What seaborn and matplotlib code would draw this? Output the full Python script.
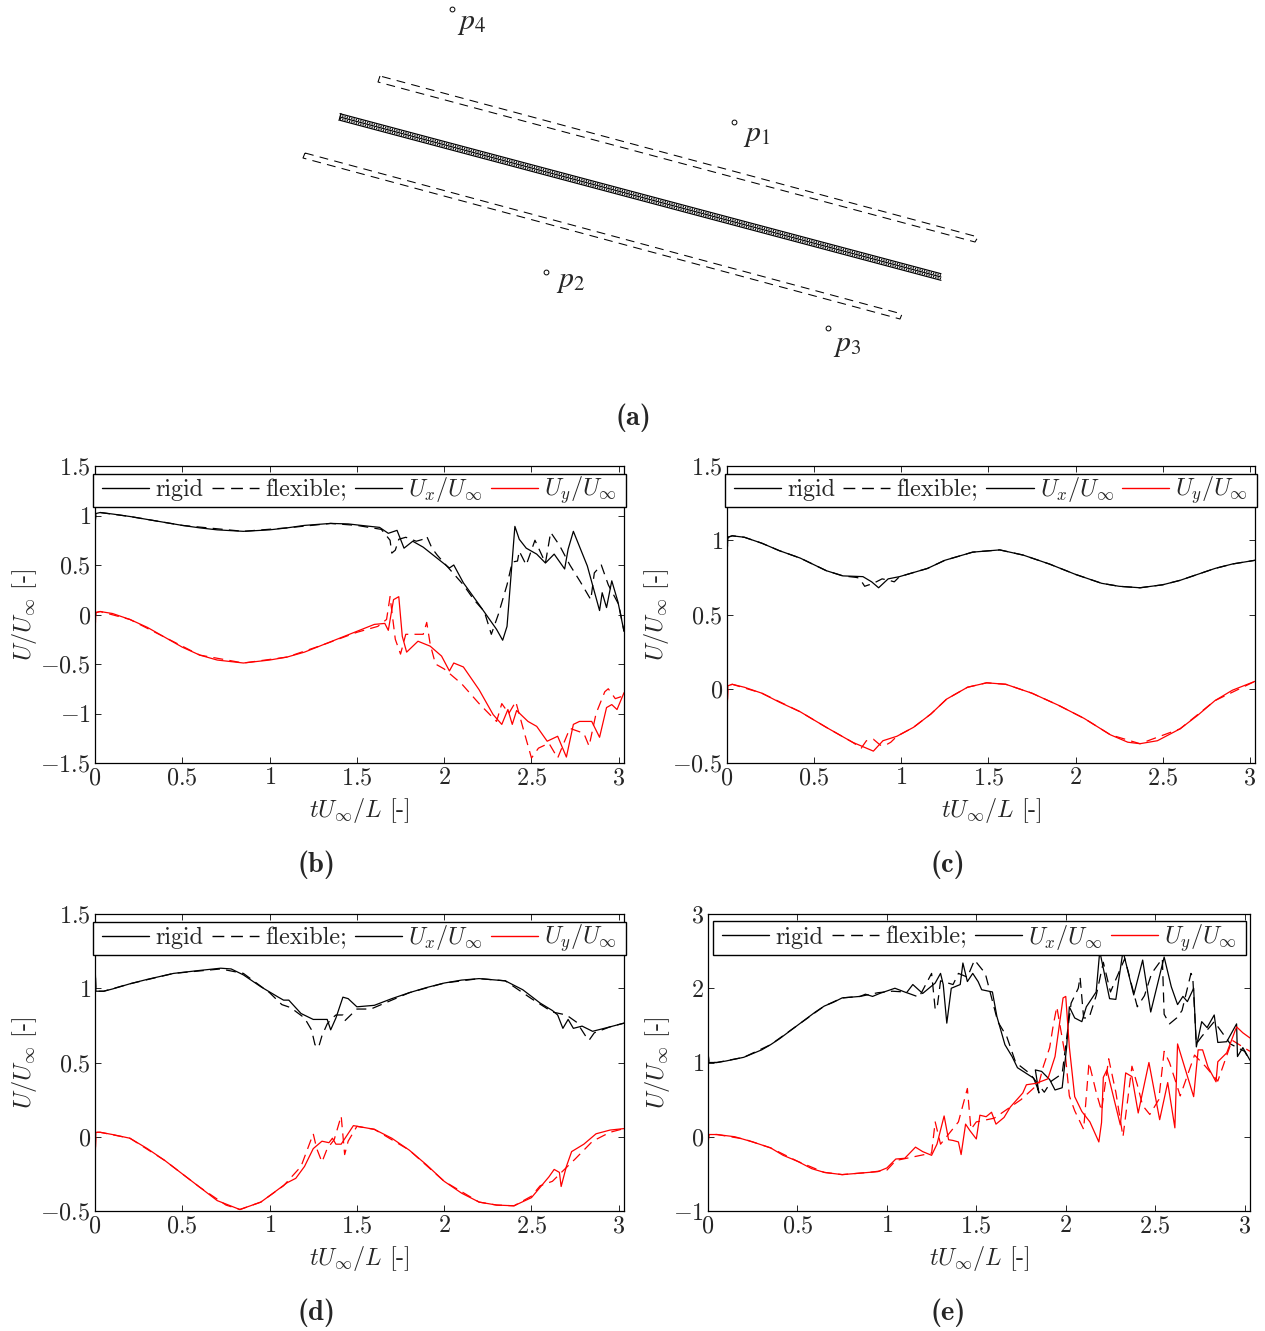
import matplotlib
matplotlib.use('Agg')
import matplotlib.pyplot as plt
from matplotlib.lines import Line2D
from matplotlib.patches import Rectangle
import seaborn as sns

# panel (b)
b_ux_t = [0, 0.005, 0.03, 0.1, 0.2, 0.3, 0.4, 0.5, 0.6, 0.7, 0.85, 1.0, 1.1, 1.2, 1.35, 1.45, 1.55, 1.63, 1.68, 1.73, 1.77, 1.82, 1.88, 2.03, 2.055, 2.11, 2.2, 2.3, 2.335, 2.36, 2.405, 2.43, 2.47, 2.53, 2.58, 2.63, 2.69, 2.71, 2.74, 2.82, 2.89, 2.905, 2.93, 2.96, 2.995, 3.03]
b_ux = [0.9, 1.02, 1.03, 1.015, 0.99, 0.96, 0.93, 0.9, 0.875, 0.855, 0.84, 0.855, 0.875, 0.9, 0.92, 0.915, 0.895, 0.88, 0.82, 0.85, 0.67, 0.74, 0.68, 0.47, 0.5, 0.32, 0.1, -0.15, -0.26, -0.12, 0.89, 0.76, 0.67, 0.61, 0.52, 0.61, 0.46, 0.66, 0.84, 0.49, 0.04, 0.22, 0.07, 0.34, 0.13, -0.17]
b_ux_flex_t = [0, 0.005, 0.03, 0.2, 0.5, 0.85, 1.1, 1.35, 1.5, 1.64, 1.69, 1.7, 1.72, 1.74, 1.78, 1.84, 1.88, 1.9, 1.93, 1.96, 2.05, 2.11, 2.17, 2.23, 2.27, 2.31, 2.36, 2.39, 2.42, 2.43, 2.47, 2.52, 2.58, 2.61, 2.66, 2.72, 2.78, 2.84, 2.86, 2.9, 2.94, 3.0, 3.03]
b_ux_flex = [0.9, 1.02, 1.03, 0.99, 0.9, 0.84, 0.875, 0.92, 0.9, 0.86, 0.75, 0.62, 0.65, 0.76, 0.78, 0.74, 0.76, 0.79, 0.67, 0.6, 0.42, 0.3, 0.15, 0.03, -0.2, 0.0, 0.3, 0.53, 0.54, 0.64, 0.5, 0.75, 0.52, 0.83, 0.7, 0.5, 0.33, 0.15, 0.42, 0.5, 0.3, 0.1, -0.17]
b_uy_t = [0, 0.005, 0.03, 0.1, 0.2, 0.3, 0.4, 0.5, 0.6, 0.7, 0.85, 1.0, 1.1, 1.2, 1.3, 1.4, 1.5, 1.6, 1.66, 1.68, 1.71, 1.74, 1.76, 1.785, 1.85, 1.92, 1.985, 2.03, 2.055, 2.11, 2.2, 2.28, 2.33, 2.365, 2.39, 2.415, 2.48, 2.53, 2.59, 2.65, 2.7, 2.74, 2.775, 2.845, 2.89, 2.93, 2.96, 2.99, 3.03]
b_uy = [-0.17, 0.02, 0.03, 0.01, -0.05, -0.13, -0.23, -0.33, -0.41, -0.46, -0.49, -0.46, -0.43, -0.38, -0.31, -0.24, -0.17, -0.1, -0.09, -0.16, 0.15, 0.18, -0.22, -0.38, -0.27, -0.32, -0.42, -0.57, -0.49, -0.53, -0.76, -1.01, -1.11, -0.96, -1.11, -0.97, -1.08, -1.13, -1.28, -1.23, -1.44, -1.11, -1.08, -1.08, -1.24, -0.94, -0.91, -0.96, -0.79]
b_uy_flex_t = [0, 0.005, 0.03, 0.2, 0.4, 0.6, 0.85, 1.1, 1.3, 1.5, 1.62, 1.67, 1.69, 1.72, 1.75, 1.78, 1.82, 1.88, 1.9, 1.92, 1.95, 2.0, 2.1, 2.2, 2.3, 2.33, 2.37, 2.41, 2.46, 2.5, 2.54, 2.6, 2.65, 2.72, 2.8, 2.83, 2.87, 2.92, 2.94, 2.98, 3.03]
b_uy_flex = [-0.17, 0.02, 0.03, -0.05, -0.23, -0.41, -0.49, -0.43, -0.31, -0.18, -0.12, -0.05, 0.18, -0.25, -0.4, -0.2, -0.2, -0.2, -0.08, -0.3, -0.5, -0.55, -0.7, -0.9, -1.08, -0.9, -1.0, -0.88, -1.2, -1.45, -1.35, -1.3, -1.45, -1.15, -1.2, -1.33, -1.0, -0.78, -0.75, -0.85, -0.82]

# panel (c)
c_ux_t = [0, 0.005, 0.03, 0.1, 0.2, 0.3, 0.42, 0.57, 0.665, 0.78, 0.83, 0.87, 0.925, 0.99, 1.15, 1.25, 1.41, 1.565, 1.7, 1.85, 2.0, 2.15, 2.25, 2.37, 2.5, 2.6, 2.7, 2.8, 2.9, 3.03]
c_ux = [0.9, 1.02, 1.03, 1.02, 0.98, 0.93, 0.88, 0.795, 0.76, 0.755, 0.72, 0.68, 0.74, 0.755, 0.81, 0.865, 0.92, 0.935, 0.9, 0.84, 0.77, 0.71, 0.69, 0.68, 0.7, 0.73, 0.77, 0.81, 0.84, 0.865]
c_ux_flex_t = [0, 0.005, 0.03, 0.1, 0.2, 0.3, 0.42, 0.57, 0.665, 0.74, 0.76, 0.79, 0.84, 0.89, 0.93, 0.96, 0.99, 1.15, 1.25, 1.41, 1.565, 1.7, 1.85, 2.0, 2.15, 2.25, 2.37, 2.5, 2.6, 2.7, 2.8, 2.9, 3.03]
c_ux_flex = [0.9, 1.02, 1.03, 1.02, 0.98, 0.93, 0.88, 0.795, 0.76, 0.75, 0.745, 0.69, 0.71, 0.74, 0.73, 0.72, 0.755, 0.81, 0.865, 0.92, 0.935, 0.9, 0.84, 0.77, 0.71, 0.69, 0.68, 0.7, 0.73, 0.77, 0.81, 0.84, 0.865]
c_uy_t = [0, 0.005, 0.03, 0.1, 0.2, 0.3, 0.42, 0.57, 0.72, 0.84, 0.895, 0.975, 1.07, 1.17, 1.26, 1.38, 1.49, 1.6, 1.75, 1.9, 2.05, 2.2, 2.3, 2.37, 2.47, 2.6, 2.7, 2.8, 2.9, 3.03]
c_uy = [-0.18, 0.02, 0.03, 0.01, -0.03, -0.09, -0.155, -0.26, -0.36, -0.42, -0.35, -0.32, -0.26, -0.17, -0.07, 0.01, 0.04, 0.03, -0.03, -0.11, -0.2, -0.31, -0.36, -0.37, -0.35, -0.27, -0.18, -0.08, -0.01, 0.05]
c_uy_flex_t = [0, 0.005, 0.03, 0.2, 0.42, 0.57, 0.72, 0.77, 0.8, 0.84, 0.88, 0.91, 0.94, 0.975, 1.07, 1.17, 1.26, 1.38, 1.49, 1.6, 1.75, 1.9, 2.05, 2.2, 2.37, 2.6, 2.8, 3.03]
c_uy_flex = [-0.18, 0.02, 0.03, -0.03, -0.155, -0.26, -0.36, -0.4, -0.35, -0.34, -0.38, -0.38, -0.36, -0.32, -0.26, -0.17, -0.07, 0.01, 0.04, 0.03, -0.03, -0.11, -0.2, -0.31, -0.37, -0.27, -0.08, 0.05]

# panel (d)
d_ux_t = [0, 0.005, 0.05, 0.1, 0.2, 0.3, 0.45, 0.6, 0.72, 0.78, 0.85, 0.95, 1.05, 1.08, 1.11, 1.18, 1.25, 1.33, 1.35, 1.38, 1.42, 1.45, 1.5, 1.6, 1.7, 1.8, 1.9, 2.0, 2.1, 2.2, 2.35, 2.45, 2.55, 2.62, 2.65, 2.68, 2.71, 2.74, 2.79, 2.85, 2.95, 3.03]
d_ux = [1.18, 0.98, 0.98, 0.995, 1.03, 1.06, 1.1, 1.12, 1.135, 1.13, 1.09, 1.01, 0.94, 0.92, 0.92, 0.83, 0.79, 0.79, 0.72, 0.8, 0.94, 0.93, 0.875, 0.885, 0.93, 0.97, 1.005, 1.035, 1.055, 1.065, 1.05, 0.99, 0.9, 0.85, 0.82, 0.73, 0.79, 0.73, 0.745, 0.71, 0.74, 0.765]
d_ux_flex_t = [0, 0.005, 0.05, 0.2, 0.45, 0.72, 0.85, 1.0, 1.07, 1.12, 1.2, 1.24, 1.26, 1.28, 1.3, 1.33, 1.36, 1.38, 1.42, 1.43, 1.5, 1.58, 1.8, 2.0, 2.2, 2.35, 2.5, 2.62, 2.7, 2.76, 2.82, 2.83, 2.86, 2.95, 3.03]
d_ux_flex = [1.18, 0.98, 0.98, 1.03, 1.1, 1.13, 1.1, 0.97, 0.89, 0.87, 0.8, 0.72, 0.62, 0.6, 0.68, 0.76, 0.8, 0.82, 0.82, 0.78, 0.86, 0.86, 0.97, 1.035, 1.065, 1.05, 0.93, 0.84, 0.82, 0.77, 0.66, 0.65, 0.7, 0.74, 0.765]
d_uy_t = [0, 0.005, 0.03, 0.1, 0.2, 0.3, 0.4, 0.5, 0.6, 0.7, 0.83, 0.95, 1.02, 1.1, 1.15, 1.2, 1.25, 1.3, 1.34, 1.36, 1.38, 1.41, 1.48, 1.6, 1.7, 1.8, 1.9, 2.0, 2.1, 2.2, 2.3, 2.4, 2.5, 2.6, 2.63, 2.66, 2.67, 2.7, 2.73, 2.8, 2.87, 2.95, 3.03]
d_uy = [-0.18, 0.03, 0.03, 0.015, -0.01, -0.08, -0.16, -0.25, -0.34, -0.43, -0.49, -0.44, -0.38, -0.31, -0.28, -0.2, -0.08, -0.03, -0.04, -0.01, -0.05, -0.05, 0.075, 0.05, -0.01, -0.09, -0.19, -0.3, -0.38, -0.44, -0.46, -0.465, -0.41, -0.27, -0.22, -0.24, -0.335, -0.2, -0.1, -0.05, 0.02, 0.045, 0.055]
d_uy_flex_t = [0, 0.005, 0.03, 0.2, 0.4, 0.6, 0.75, 0.83, 0.95, 1.08, 1.18, 1.25, 1.27, 1.3, 1.33, 1.37, 1.41, 1.43, 1.45, 1.5, 1.6, 1.8, 2.0, 2.2, 2.3, 2.4, 2.5, 2.55, 2.62, 2.68, 2.75, 2.85, 2.95, 3.03]
d_uy_flex = [-0.18, 0.03, 0.03, -0.01, -0.16, -0.34, -0.46, -0.49, -0.44, -0.33, -0.2, 0.02, -0.08, -0.17, -0.08, -0.02, 0.14, -0.12, -0.03, 0.07, 0.05, -0.09, -0.3, -0.44, -0.46, -0.465, -0.4, -0.33, -0.3, -0.23, -0.15, -0.03, 0.03, 0.055]

# panel (e)
e_ux_t = [0, 0.005, 0.05, 0.1, 0.2, 0.3, 0.35, 0.4, 0.5, 0.6, 0.65, 0.7, 0.75, 0.85, 0.88, 0.92, 0.96, 1.045, 1.11, 1.145, 1.2, 1.27, 1.3, 1.315, 1.335, 1.36, 1.41, 1.425, 1.45, 1.48, 1.51, 1.53, 1.59, 1.615, 1.66, 1.7, 1.73, 1.82, 1.84, 1.85, 1.83, 1.865, 1.91, 1.94, 1.98, 2.005, 2.02, 2.05, 2.09, 2.115, 2.17, 2.19, 2.245, 2.28, 2.32, 2.38, 2.43, 2.475, 2.55, 2.59, 2.625, 2.655, 2.68, 2.715, 2.73, 2.76, 2.79, 2.83, 2.85, 2.9, 2.955, 2.96, 2.99, 3.03]
e_ux = [1.15, 1.0, 1.0, 1.02, 1.07, 1.17, 1.24, 1.32, 1.5, 1.68, 1.76, 1.81, 1.87, 1.89, 1.92, 1.89, 1.93, 2.0, 1.94, 2.05, 1.93, 2.07, 2.2, 2.05, 1.53, 2.0, 2.05, 2.34, 2.09, 2.2, 2.09, 1.98, 1.95, 1.62, 1.24, 1.08, 0.93, 0.79, 0.67, 0.59, 0.9, 0.88, 0.77, 0.63, 0.66, 1.21, 1.75, 1.6, 1.55, 1.75, 1.95, 2.5, 1.86, 1.85, 2.5, 1.91, 2.38, 1.68, 2.42, 2.02, 1.78, 1.89, 1.82, 2.0, 1.21, 1.55, 1.47, 1.64, 1.27, 1.28, 1.52, 1.08, 1.2, 1.03]
e_ux_flex_t = [0, 0.005, 0.05, 0.2, 0.35, 0.5, 0.65, 0.75, 0.85, 0.95, 1.03, 1.1, 1.18, 1.25, 1.27, 1.28, 1.3, 1.37, 1.4, 1.45, 1.49, 1.55, 1.62, 1.67, 1.72, 1.8, 1.88, 1.92, 1.98, 2.03, 2.07, 2.08, 2.1, 2.13, 2.17, 2.21, 2.25, 2.33, 2.4, 2.44, 2.48, 2.54, 2.55, 2.58, 2.62, 2.65, 2.7, 2.71, 2.73, 2.76, 2.83, 2.92, 3.0, 3.03]
e_ux_flex = [1.15, 1.0, 1.0, 1.07, 1.24, 1.5, 1.76, 1.87, 1.89, 1.94, 1.96, 1.95, 1.88, 2.2, 1.72, 1.72, 2.1, 2.05, 2.2, 2.15, 2.38, 2.2, 1.55, 1.35, 1.0, 0.85, 0.6, 0.75, 0.85, 1.8, 2.0, 2.15, 1.6, 1.6, 1.9, 2.35, 1.95, 2.4, 1.75, 1.9, 2.2, 2.4, 1.65, 1.52, 1.6, 1.7, 2.2, 2.15, 1.25, 1.35, 1.55, 1.25, 1.15, 1.02]
e_uy_t = [0, 0.005, 0.05, 0.15, 0.25, 0.35, 0.42, 0.5, 0.58, 0.65, 0.75, 0.85, 0.95, 1.0, 1.05, 1.1, 1.16, 1.2, 1.25, 1.28, 1.32, 1.345, 1.37, 1.4, 1.415, 1.44, 1.465, 1.5, 1.52, 1.555, 1.585, 1.61, 1.655, 1.69, 1.76, 1.78, 1.835, 1.9, 1.94, 1.985, 2.0, 2.02, 2.05, 2.09, 2.135, 2.185, 2.2, 2.21, 2.23, 2.305, 2.335, 2.37, 2.405, 2.465, 2.525, 2.57, 2.61, 2.625, 2.715, 2.74, 2.765, 2.795, 2.84, 2.85, 2.9, 2.955, 2.99, 3.03]
e_uy = [-0.1, 0.03, 0.03, 0.0, -0.07, -0.15, -0.25, -0.33, -0.43, -0.48, -0.51, -0.49, -0.47, -0.42, -0.3, -0.29, -0.14, -0.2, -0.25, -0.1, 0.28, -0.04, -0.05, -0.07, -0.24, 0.17, 0.08, -0.03, 0.29, 0.27, 0.33, 0.17, 0.26, 0.4, 0.59, 0.7, 0.72, 0.78, 1.08, 1.87, 1.89, 1.21, 0.54, 0.34, 0.2, -0.07, 0.19, 0.8, 0.9, 0.16, 0.86, 0.81, 0.32, 1.0, 0.23, 0.73, 0.12, 1.25, 0.54, 1.17, 1.17, 0.94, 0.74, 1.01, 1.13, 1.48, 1.4, 1.33]
e_uy_flex_t = [0, 0.005, 0.05, 0.2, 0.35, 0.5, 0.65, 0.75, 0.9, 1.0, 1.05, 1.15, 1.25, 1.27, 1.3, 1.4, 1.45, 1.47, 1.5, 1.6, 1.75, 1.85, 1.875, 1.91, 1.93, 1.95, 1.975, 2.0, 2.02, 2.05, 2.1, 2.12, 2.13, 2.17, 2.2, 2.24, 2.28, 2.32, 2.37, 2.4, 2.43, 2.47, 2.52, 2.55, 2.58, 2.6, 2.64, 2.72, 2.78, 2.85, 2.93, 3.03]
e_uy_flex = [-0.1, 0.03, 0.03, -0.03, -0.15, -0.33, -0.48, -0.51, -0.48, -0.45, -0.32, -0.27, -0.22, 0.2, -0.1, 0.2, 0.65, 0.1, 0.2, 0.25, 0.5, 0.72, 0.95, 1.2, 1.5, 1.75, 1.4, 1.05, 0.55, 0.35, 0.1, 0.7, 1.0, 0.6, 0.35, 1.05, 0.6, 0.0, 0.95, 0.7, 0.42, 0.3, 0.5, 1.15, 1.0, 0.85, 0.55, 1.1, 0.95, 0.75, 1.3, 1.15]

xtick_vals = [0, 0.5, 1, 1.5, 2, 2.5, 3]
xtick_text = ['$0$', '$0.5$', '$1$', '$1.5$', '$2$', '$2.5$', '$3$']
yticks_b = [-1.5, -1, -0.5, 0, 0.5, 1, 1.5]
yticks_b_text = ['$-1.5$', '$-1$', '$-0.5$', '$0$', '$0.5$', '$1$', '$1.5$']
yticks_c = [-0.5, 0, 0.5, 1, 1.5]
yticks_c_text = ['$-0.5$', '$0$', '$0.5$', '$1$', '$1.5$']
yticks_e = [-1, 0, 1, 2, 3]
yticks_e_text = ['$-1$', '$0$', '$1$', '$2$', '$3$']

# diagram, in reference pixels
plate_x = [340, 941]
plate_y = [117, 277]
plate_offsets = [-3.3, 0, 3.3]
plate_dot_offsets = [-1.7, 1.7]
plate_end_x = [341, 339]
plate_end_y = [113.5, 120.5]
upper_box_x = [380, 378, 975, 978, 380]
upper_box_y = [76, 82, 242, 237, 76]
lower_box_x = [305, 303, 900, 902, 305]
lower_box_y = [153, 158, 319, 314, 153]
probe_x = [734, 546, 828, 452]
probe_y = [122, 272, 328, 9]
label_x = [743, 556, 833, 457]
label_y = [136, 282, 346, 24]
probe_text = ['$p_1$', '$p_2$', '$p_3$', '$p_4$']

W, H = 1265, 1331
sns.set_style('ticks')
plt.rcParams['font.family'] = ['cmr10']
plt.rcParams['mathtext.fontset'] = 'cm'
plt.rcParams['axes.formatter.use_mathtext'] = True
plt.rcParams['axes.unicode_minus'] = False
FS = 17.4
LETTER_FS = 20.5


def make_axes(fig, left, right, top, bottom):
    return fig.add_axes([left / W, 1 - bottom / H, (right - left) / W, (bottom - top) / H])


def box(left, right, top, bottom):
    return (left / W, 1 - bottom / H, (right - left) / W, (bottom - top) / H)


def draw_panel(ax, series, ylim, yticks, yticks_text, frame, inset, letter, letter_x, letter_y):
    for t, u, color, dashed in series:
        sns.lineplot(x=t, y=u, ax=ax, color=color, lw=0.9, sort=False, estimator=None,
                     errorbar=None, linestyle=(0, (8, 5)) if dashed else '-')
    ax.set_xlim(0, 3.03)
    ax.set_ylim(*ylim)
    ax.set_xticks(xtick_vals)
    ax.set_xticklabels(xtick_text, fontsize=FS)
    ax.set_yticks(yticks)
    ax.set_yticklabels(yticks_text, fontsize=FS)
    ax.tick_params(direction='in', length=4.5, width=0.7, top=True, right=True, pad=3)
    for s in ax.spines.values():
        s.set_linewidth(0.9)
        s.set_color('black')
    ax.set_xlabel(r'$tU_\infty/L$ [-]', fontsize=FS, labelpad=5)
    ax.set_ylabel(r'$U/U_\infty$ [-]', fontsize=FS, labelpad=1)
    # legend frame drawn by hand so that it can be tighter than the legend padding allows
    left, right, top, bottom = frame
    ax.add_patch(Rectangle((left / W, 1 - bottom / H), (right - left) / W, (bottom - top) / H,
                           transform=ax.figure.transFigure, facecolor='white', edgecolor='black',
                           lw=1, clip_on=False, zorder=9))
    handles = [Line2D([], [], color='k', lw=1),
               Line2D([], [], color='k', lw=1, ls=(0, (8.5, 4.9))),
               Line2D([], [], color='k', lw=1),
               Line2D([], [], color='r', lw=1)]
    leg = ax.legend(handles, ['rigid', 'flexible;', r'$U_x/U_\infty$', r'$U_y/U_\infty$'], ncol=4, fontsize=FS,
                    loc='center left', mode='expand', frameon=False,
                    bbox_to_anchor=box(left + inset, right - inset, top, bottom),
                    bbox_transform=ax.figure.transFigure, borderaxespad=0, handlelength=1.95,
                    handletextpad=0.25, columnspacing=0.55, borderpad=0)
    leg.set_zorder(10)
    ax.figure.text(letter_x / W, 1 - letter_y / H, letter, family='cmb10', fontsize=LETTER_FS, ha='center', va='center')


fig = plt.figure(figsize=(W / 100, H / 100), dpi=100)

# diagram (a)
ax_a = fig.add_axes([0, 0, 1, 1])
ax_a.set_xlim(0, W)
ax_a.set_ylim(H, 0)
ax_a.axis('off')
for off in plate_offsets:
    sns.lineplot(x=plate_x, y=[plate_y[0] + off, plate_y[1] + off], ax=ax_a, color='black', lw=0.85,
                 estimator=None, sort=False)
for off in plate_dot_offsets:
    sns.lineplot(x=plate_x, y=[plate_y[0] + off, plate_y[1] + off], ax=ax_a, color='black', lw=1.2,
                 estimator=None, sort=False, linestyle=(0, (0.7, 0.7)))
sns.lineplot(x=plate_end_x, y=plate_end_y, ax=ax_a, color='black', lw=0.85, estimator=None, sort=False)
for bx, by in [(upper_box_x, upper_box_y), (lower_box_x, lower_box_y)]:
    sns.lineplot(x=bx, y=by, ax=ax_a, color='black', lw=0.75, estimator=None, sort=False, linestyle=(0, (8.5, 6)))
sns.scatterplot(x=probe_x, y=probe_y, ax=ax_a, s=12, facecolor='white', edgecolor='black', linewidth=0.7)
for lx, ly, name in zip(label_x, label_y, probe_text):
    ax_a.text(lx, ly, name, fontsize=FS + 4, va='center', ha='left', math_fontfamily='stix')
ax_a.text(633, 418, '(a)', family='cmb10', fontsize=LETTER_FS, ha='center', va='center')

# panel (b)
ax_b = make_axes(fig, 95, 624, 466, 763)
draw_panel(ax_b, [(b_ux_flex_t, b_ux_flex, 'black', True), (b_uy_flex_t, b_uy_flex, 'red', True),
                  (b_ux_t, b_ux, 'black', False), (b_uy_t, b_uy, 'red', False)],
           (-1.5, 1.5), yticks_b, yticks_b_text, (93, 626, 474, 507), 9, '(b)', 317, 865)

# panel (c)
ax_c = make_axes(fig, 727, 1255, 466, 763)
draw_panel(ax_c, [(c_ux_flex_t, c_ux_flex, 'black', True), (c_uy_flex_t, c_uy_flex, 'red', True),
                  (c_ux_t, c_ux, 'black', False), (c_uy_t, c_uy, 'red', False)],
           (-0.5, 1.5), yticks_c, yticks_c_text, (725, 1257, 474, 507), 9, '(c)', 948, 865)

# panel (d)
ax_d = make_axes(fig, 95, 624, 914, 1211)
draw_panel(ax_d, [(d_ux_flex_t, d_ux_flex, 'black', True), (d_uy_flex_t, d_uy_flex, 'red', True),
                  (d_ux_t, d_ux, 'black', False), (d_uy_t, d_uy, 'red', False)],
           (-0.5, 1.5), yticks_c, yticks_c_text, (93, 626, 922, 955), 9, '(d)', 317, 1313)

# panel (e)
ax_e = make_axes(fig, 708, 1250, 914, 1211)
draw_panel(ax_e, [(e_ux_flex_t, e_ux_flex, 'black', True), (e_uy_flex_t, e_uy_flex, 'red', True),
                  (e_ux_t, e_ux, 'black', False), (e_uy_t, e_uy, 'red', False)],
           (-1, 3), yticks_e, yticks_e_text, (713, 1246, 921, 955), 9, '(e)', 948, 1313)

fig.savefig('out.png', dpi=100)
